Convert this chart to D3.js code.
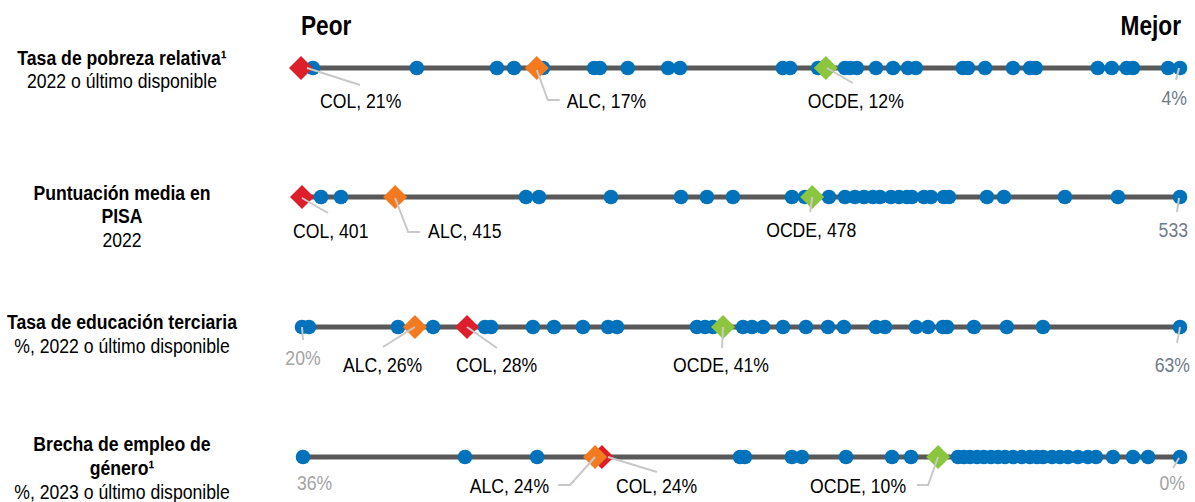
<!DOCTYPE html>
<html>
<head>
<meta charset="utf-8">
<script src="https://cdn.jsdelivr.net/npm/d3@7/dist/d3.min.js"></script>
<style>
  html, body { margin: 0; padding: 0; background: #fff; }
  svg { display: block; }
  text { font-family: "Liberation Sans Narrow", "Arial Narrow", "Liberation Sans", Arial, sans-serif; }
</style>
</head>
<body>
<svg id="chart" width="1195" height="502"></svg>
<script>
// ---------------- DATA ----------------
const titleLines = [
  ["Tasa de pobreza relativa¹"],
  ["Puntuación media en", "PISA"],
  ["Tasa de educación terciaria"],
  ["Brecha de empleo de", "género¹"]
];
const subtitles = [
  "2022 o último disponible",
  "2022",
  "%, 2022 o último disponible",
  "%, 2023 o último disponible"
];
// domain: [worst, best]
const domains = [[21, 4], [401, 533], [20, 63], [36, 0]];

const povertyValues = [20.77, 18.76, 17.21, 16.88, 16.32, 15.33, 15.22, 14.68, 13.90, 13.67,
  11.68, 11.54, 11.00, 10.48, 10.38, 10.25, 9.88, 9.55, 9.26, 9.11, 8.20, 8.10, 7.77, 7.23,
  6.90, 6.79, 5.59, 5.32, 5.03, 4.91, 4.23, 4.00];
const pisaValues = [403.86, 406.86, 434.67, 436.63, 447.45, 457.98, 461.88, 465.79, 474.66,
  476.62, 480.22, 482.63, 484.13, 485.49, 486.84, 487.89, 489.55, 490.75, 491.95, 492.70,
  494.51, 495.56, 497.51, 498.26, 503.98, 506.53, 515.70, 523.67, 533.00];
const tertiaryValues = [20.0, 20.34, 24.70, 26.42, 28.96, 29.26, 31.31, 32.34, 33.76, 34.99,
  35.43, 39.34, 39.74, 40.13, 41.60, 42.04, 42.58, 43.56, 44.68, 45.76, 46.54, 48.11, 48.55,
  50.07, 50.66, 51.39, 51.59, 52.91, 54.52, 56.29, 63.0];
const genderGapValues = [36.0, 29.35, 26.39, 18.06, 17.86, 15.93, 15.52, 13.71, 11.82, 11.04,
  9.11, 8.87, 8.62, 8.33, 8.05, 7.76, 7.47, 7.18, 6.85, 6.49, 6.16, 5.87, 5.62, 5.25, 4.93,
  4.60, 4.19, 3.78, 3.45, 2.75, 1.93, 1.31, 0.0];
const countryValues = [povertyValues, pisaValues, tertiaryValues, genderGapValues];

const colValues  = [21.0, 401.0, 28.08, 23.73];
const alcValues  = [16.44, 415.0, 25.53, 24.01];
const ocdeValues = [10.85, 477.7, 40.62, 9.93];
const colLabels  = ["COL, 21%", "COL, 401", "COL, 28%", "COL, 24%"];
const alcLabels  = ["ALC, 17%", "ALC, 415", "ALC, 26%", "ALC, 24%"];
const ocdeLabels = ["OCDE, 12%", "OCDE, 478", "OCDE, 41%", "OCDE, 10%"];
const worstLabels = ["", "", "20%", "36%"];
const bestLabels  = ["4%", "533", "63%", "0%"];
const headerLabels = ["Peor", "Mejor"];

// ---------------- LAYOUT ----------------
const rowY = [68, 197, 327, 457];
const rowRanges = [[301, 1180], [302, 1180], [302, 1180], [303, 1180]];
const colors = { dot: "#0072bc", col: "#dc1f2a", alc: "#f47a20", ocde: "#8cc63f",
  line: "#595959", leader: "#c8c8c8", text: "#000", greyDark: "#6f7c88", greyLight: "#a3a3a3" };
const NARROW = 0.84; // horizontal condensing to emulate a narrow face

const placeCOL = [
  { dx: 19, dy: 40, anchor: "start", leader: [[6, 0], [59, 17]] },
  { dx: -9, dy: 41, anchor: "start", leader: [[0, 1], [26, 16]] },
  { dx: -11, dy: 45, anchor: "start", leader: [[0, 0], [30, 21]] },
  { dx: 14, dy: 36, anchor: "start", leader: [[6, 0], [55, 15]] }
];
const placeALC = [
  { dx: 30, dy: 40, anchor: "start", leader: [[0, 2], [11, 32], [23, 32]] },
  { dx: 33, dy: 41, anchor: "start", leader: [[0, 1], [13, 35], [25, 35]] },
  { dx: -72, dy: 45, anchor: "start", leader: [[0, 0], [-32, 20]] },
  { dx: -46, dy: 36, anchor: "end", leader: [[0, 0], [-25, 28], [-37, 28]] }
];
const placeOCDE = [
  { dx: -18, dy: 40, anchor: "start", leader: [[1, 0], [27, 15]] },
  { dx: -46, dy: 40, anchor: "start", leader: [[0, 0], [-2, 15]] },
  { dx: -50, dy: 45, anchor: "start", leader: [[0, 0], [-1, 21]] },
  { dx: -32, dy: 36, anchor: "end", leader: [[0, 0], [-10, 28], [-21, 28]] }
];
const placeBest = [
  { dx: 7, dy: 37, anchor: "end", leader: [[-1, 0], [-4, 12]], color: colors.greyDark },
  { dx: 8, dy: 40, anchor: "end", leader: [[-1, 1], [-3, 15]], color: colors.greyDark },
  { dx: 10, dy: 45, anchor: "end", leader: [[0, 0], [-3, 16]], color: colors.greyDark },
  { dx: 5, dy: 33, anchor: "end", leader: [[-1, 1], [-7, 11]], color: colors.greyLight }
];
const placeWorst = [
  null, null,
  { dx: 1, dy: 38, anchor: "middle", leader: [[0, 0], [1, 13]], color: colors.greyLight },
  { dx: -6, dy: 33, anchor: "start", leader: null, color: colors.greyLight }
];
const titleBaselines = [[65, 88], [200, 223, 247], [329, 353], [451, 475, 499]];

const svg = d3.select("#chart");

function addText(parent, x, y, str, opts = {}) {
  return parent.append("text")
    .attr("transform", `translate(${x},${y}) scale(${NARROW},1)`)
    .attr("text-anchor", opts.anchor || "start")
    .attr("font-size", opts.size || 21)
    .attr("font-weight", opts.bold ? "bold" : "normal")
    .attr("fill", opts.color || "#000")
    .text(str);
}

// header
addText(svg, 301, 35, headerLabels[0], { size: 27, bold: true });
addText(svg, 1181, 35, headerLabels[1], { size: 27, bold: true, anchor: "end" });

const diamond = d3.symbol().type(d3.symbolSquare).size(17 * 17);

titleLines.forEach((lines, i) => {
  const y0 = rowY[i];
  const x = d3.scaleLinear().domain(domains[i]).range(rowRanges[i]);
  const g = svg.append("g");

  // left title
  const tb = titleBaselines[i];
  lines.forEach((ln, j) => addText(g, 122, tb[j], ln, { anchor: "middle", bold: true }));
  addText(g, 122, tb[lines.length], subtitles[i], { anchor: "middle" });

  // axis line
  g.append("line").attr("x1", x.range()[0]).attr("x2", x.range()[1])
    .attr("y1", y0).attr("y2", y0).attr("stroke", colors.line).attr("stroke-width", 5);

  // country dots
  g.selectAll("circle.c").data(countryValues[i]).join("circle")
    .attr("class", "c").attr("cx", d => x(d)).attr("cy", y0).attr("r", 7.3)
    .attr("fill", colors.dot);

  // highlighted markers
  const markers = [
    { v: colValues[i], c: colors.col, label: colLabels[i], p: placeCOL[i] },
    { v: alcValues[i], c: colors.alc, label: alcLabels[i], p: placeALC[i] },
    { v: ocdeValues[i], c: colors.ocde, label: ocdeLabels[i], p: placeOCDE[i] }
  ];
  markers.forEach(m => {
    g.append("path").attr("d", diamond)
      .attr("transform", `translate(${x(m.v)},${y0}) rotate(45)`).attr("fill", m.c);
  });

  const labels = markers.map(m => ({ px: x(m.v), label: m.label, p: m.p, color: colors.text }));
  labels.push({ px: x(domains[i][1]), label: bestLabels[i], p: placeBest[i], color: placeBest[i].color });
  if (placeWorst[i]) labels.push({ px: x(domains[i][0]), label: worstLabels[i], p: placeWorst[i], color: placeWorst[i].color });

  const lineGen = d3.line();
  labels.forEach(l => {
    if (l.p.leader) {
      g.append("path").attr("d", lineGen(l.p.leader.map(([dx, dy]) => [l.px + dx, y0 + dy])))
        .attr("fill", "none").attr("stroke", colors.leader).attr("stroke-width", 2);
    }
    addText(g, l.px + l.p.dx, y0 + l.p.dy, l.label, { anchor: l.p.anchor, color: l.color });
  });
});
</script>
</body>
</html>
